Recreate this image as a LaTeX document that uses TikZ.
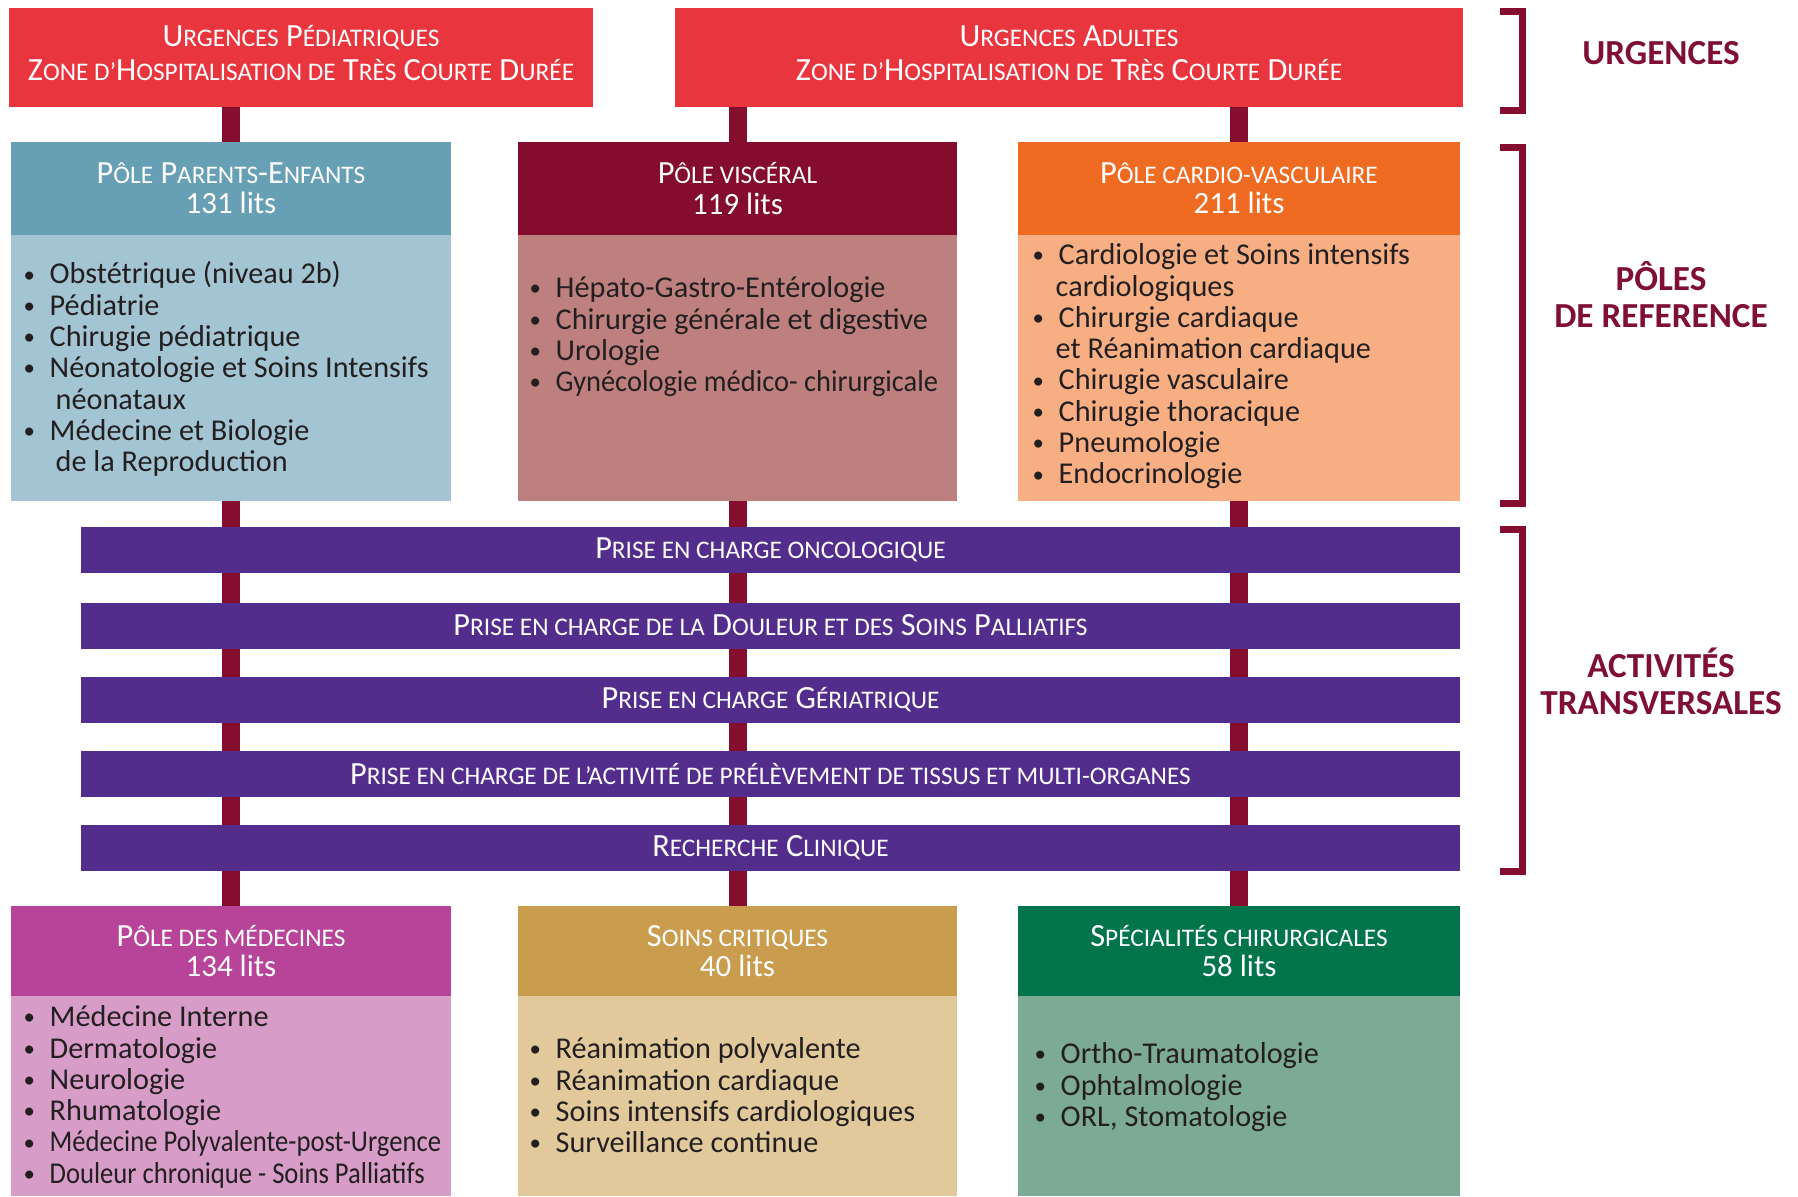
\documentclass[tikz,border=0pt]{standalone}
\usepackage{fontspec}
\setmainfont{Carlito}
\usepackage{graphicx}
\usetikzlibrary{backgrounds}

\definecolor{urgrouge}{RGB}{233,54,62}
\definecolor{bordeaux}{RGB}{133,13,45}
\definecolor{peTete}{RGB}{103,159,181}
\definecolor{peCorps}{RGB}{162,196,211}
\definecolor{viTete}{RGB}{132,12,44}
\definecolor{viCorps}{RGB}{189,128,126}
\definecolor{caTete}{RGB}{240,107,34}
\definecolor{caCorps}{RGB}{247,174,130}
\definecolor{transv}{RGB}{83,45,140}
\definecolor{meTete}{RGB}{184,68,154}
\definecolor{meCorps}{RGB}{215,157,200}
\definecolor{scTete}{RGB}{201,156,78}
\definecolor{scCorps}{RGB}{225,201,155}
\definecolor{spTete}{RGB}{0,117,75}
\definecolor{spCorps}{RGB}{125,170,146}
\definecolor{titre}{RGB}{127,16,52}
\definecolor{texte}{RGB}{35,31,32}

\newcommand\petit[1]{{\fontsize{7.2}{8}\selectfont #1}}
\newcommand\lits[1]{{\fontsize{8.8}{9}\selectfont #1 lits}}
\newcommand\puce{\makebox[0.26cm][l]{\raisebox{0.5pt}{\fontsize{6.5}{6.5}\selectfont\textbullet}}}
\newcommand\suite{\hspace*{0.32cm}}
\newcommand\serre[2][0.88]{\scalebox{#1}[1]{#2}}

\begin{document}
\begin{tikzpicture}[x=0.01cm,y=-0.01cm,
  tete/.style={rectangle, inner sep=0pt, outer sep=0pt, text=white, align=center, font=\fontsize{9.2}{9.6}\selectfont},
  corps/.style={rectangle, inner sep=0pt, outer sep=0pt, minimum width=4.40cm},
  liste/.style={anchor=north west, inner sep=0pt, align=left, text=texte, font=\fontsize{8.6}{8.9}\selectfont},
  barre/.style={rectangle, fill=transv, inner sep=0pt, outer sep=0pt, minimum width=13.79cm, minimum height=0.46cm, text=white, font=\fontsize{9.2}{9.6}\selectfont},
  connecteur/.style={line width=0.18cm, draw=bordeaux},
  accolade/.style={line width=0.07cm, draw=bordeaux},
  etiquette/.style={text=titre, align=center, font=\bfseries\fontsize{10}{10.5}\selectfont}]
\useasboundingbox (0,0) rectangle (1798,1196);

% urgences
\node[tete, fill=urgrouge, minimum width=5.84cm, minimum height=0.99cm, text depth=2.5pt] (urgped) at (301,57.5)
  {U\petit{RGENCES} P\petit{ÉDIATRIQUES}\\Z\petit{ONE D’}H\petit{OSPITALISATION DE} T\petit{RÈS} C\petit{OURTE} D\petit{URÉE}};
\node[tete, fill=urgrouge, minimum width=7.88cm, minimum height=0.99cm, text depth=2.5pt] (urgad) at (1069,57.5)
  {U\petit{RGENCES} A\petit{DULTES}\\Z\petit{ONE D’}H\petit{OSPITALISATION DE} T\petit{RÈS} C\petit{OURTE} D\petit{URÉE}};

% poles de reference
\node[tete, fill=peTete, minimum width=4.40cm, minimum height=0.93cm] (pe) at (231,188.5)
  {P\petit{ÔLE} P\petit{ARENTS}-E\petit{NFANTS}\\[-1pt]\lits{131}};
\node[corps, fill=peCorps, minimum height=2.66cm] (peliste) at (231,368) {};
\node[tete, fill=viTete, minimum width=4.39cm, minimum height=0.93cm] (vi) at (737.5,188.5)
  {P\petit{ÔLE VISCÉRAL}\\[-1pt]\lits{119}};
\node[corps, fill=viCorps, minimum width=4.39cm, minimum height=2.66cm] (viliste) at (737.5,368) {};
\node[tete, fill=caTete, minimum width=4.42cm, minimum height=0.93cm] (ca) at (1239,188.5)
  {P\petit{ÔLE CARDIO-VASCULAIRE}\\[-1pt]\lits{211}};
\node[corps, fill=caCorps, minimum width=4.42cm, minimum height=2.66cm] (caliste) at (1239,368) {};

\node[liste] (petxt) at (23,261) {\puce Obstétrique (niveau 2b)\\\puce Pédiatrie\\\puce Chirugie pédiatrique\\
  \puce Néonatologie et Soins Intensifs\\\suite néonataux\\\puce Médecine et Biologie\\\suite de la Reproduction};
\node[liste] (vitxt) at (529,276) {\puce Hépato-Gastro-Entérologie\\\puce Chirurgie générale et digestive\\
  \puce Urologie\\\puce \serre[0.94]{Gynécologie médico- chirurgicale}};
\node[liste] (catxt) at (1032,243) {\puce Cardiologie et Soins intensifs\\\hspace*{0.23cm}cardiologiques\\
  \puce Chirurgie cardiaque\\\hspace*{0.23cm}et Réanimation cardiaque\\\puce Chirugie vasculaire\\
  \puce Chirugie thoracique\\\puce Pneumologie\\\puce Endocrinologie};

% activites transversales
\node[barre] (onco) at (770.5,550) {P\petit{RISE EN CHARGE ONCOLOGIQUE}};
\node[barre] (douleur) at (770.5,625.5) {P\petit{RISE EN CHARGE DE LA} D\petit{OULEUR ET DES} S\petit{OINS} P\petit{ALLIATIFS}};
\node[barre] (geria) at (770.5,700) {P\petit{RISE EN CHARGE} G\petit{ÉRIATRIQUE}};
\node[barre] (prelev) at (770.5,774) {P\petit{RISE EN CHARGE DE L’ACTIVITÉ DE PRÉLÈVEMENT DE TISSUS ET MULTI-ORGANES}};
\node[barre] (recherche) at (770.5,848) {R\petit{ECHERCHE} C\petit{LINIQUE}};

% poles du bas
\node[tete, fill=meTete, minimum width=4.40cm, minimum height=0.90cm] (me) at (231,951)
  {P\petit{ÔLE DES MÉDECINES}\\[-1pt]\lits{134}};
\node[corps, fill=meCorps, minimum height=2.00cm] (meliste) at (231,1096) {};
\node[tete, fill=scTete, minimum width=4.39cm, minimum height=0.90cm] (sc) at (737.5,951)
  {S\petit{OINS CRITIQUES}\\[-1pt]\lits{40}};
\node[corps, fill=scCorps, minimum width=4.39cm, minimum height=2.00cm] (scliste) at (737.5,1096) {};
\node[tete, fill=spTete, minimum width=4.42cm, minimum height=0.90cm] (sp) at (1239,951)
  {S\petit{PÉCIALITÉS CHIRURGICALES}\\[-1pt]\lits{58}};
\node[corps, fill=spCorps, minimum width=4.42cm, minimum height=2.00cm] (spliste) at (1239,1096) {};

\node[liste] (metxt) at (23,1005) {\puce Médecine Interne\\\puce Dermatologie\\\puce Neurologie\\\puce Rhumatologie\\
  \puce \serre{Médecine Polyvalente-post-Urgence}\\\puce \serre{Douleur chronique - Soins Palliatifs}};
\node[liste] (sctxt) at (529,1037) {\puce Réanimation polyvalente\\\puce Réanimation cardiaque\\
  \puce Soins intensifs cardiologiques\\\puce Surveillance continue};
\node[liste] (sptxt) at (1034,1042) {\puce Ortho-Traumatologie\\\puce Ophtalmologie\\\puce ORL, Stomatologie};

% liaisons
\begin{scope}[on background layer]
\draw[connecteur] (urgped.south -| pe.north) -- (me.north);
\draw[connecteur] (urgad.south -| vi.north) -- (sc.north);
\draw[connecteur] (urgad.south -| ca.north) -- (sp.north);
\end{scope}

% accolades
\draw[accolade] (1500,11) -- (1522,11) -- (1522,110) -- (1500,110);
\draw[accolade] (1500,147) -- (1522,147) -- (1522,503) -- (1500,503);
\draw[accolade] (1500,529) -- (1522,529) -- (1522,871) -- (1500,871);
\node[etiquette] (urgences) at (1661,53) {URGENCES};
\node[etiquette] (poles) at (1661,295) {PÔLES\\DE REFERENCE};
\node[etiquette] (activites) at (1661,681) {ACTIVITÉS\\TRANSVERSALES};
\end{tikzpicture}
\end{document}
